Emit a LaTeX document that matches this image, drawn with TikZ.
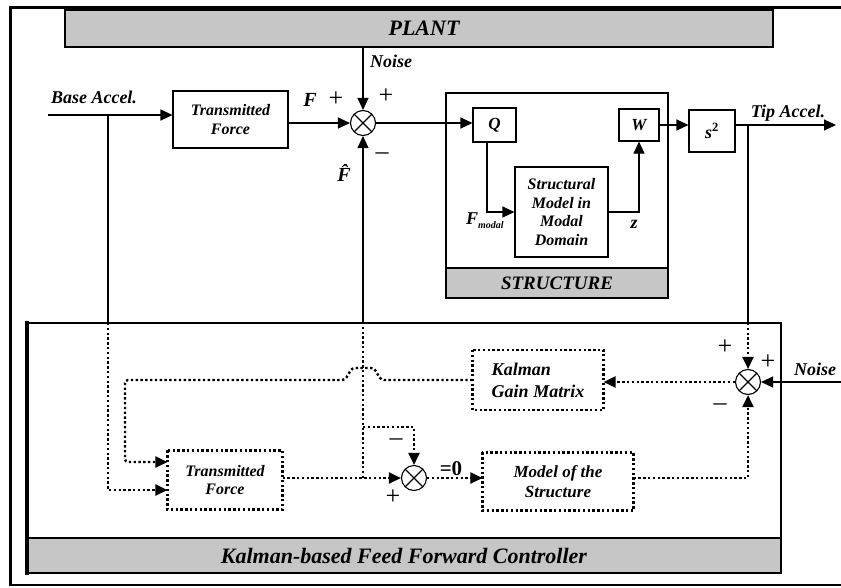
\documentclass[tikz,border=0pt]{standalone}
\usepackage{fontspec}
\setmainfont{Liberation Serif}
\usetikzlibrary{arrows.meta}
\begin{document}
\begin{tikzpicture}[x=1pt,y=-1pt,
  lab/.style={font=\fontsize{18}{18}\selectfont\bfseries\itshape, inner sep=0},
  sgn/.style={font=\fontsize{26}{26}\selectfont, inner sep=0},
  blk/.style={draw, line width=1.1pt, inner sep=0, align=center,
    font=\fontsize{16}{18.5}\selectfont\bfseries\itshape},
  dblk/.style={blk, draw=none},
  banner/.style={draw, line width=1.2pt, fill=gray!45, inner sep=0,
    font=\fontsize{19}{20}\selectfont\bfseries\itshape},
  sumnode/.style={circle, draw, line width=1.1pt, minimum size=25pt, inner sep=0,
    path picture={\draw[line width=1.1pt]
      (path picture bounding box.north west) -- (path picture bounding box.south east)
      (path picture bounding box.north east) -- (path picture bounding box.south west);}},
  arr/.style={-{Triangle[length=12pt,width=11pt]}},
  conn/.style={line width=1.1pt},
  dots/.style={line width=2.4pt, dash pattern=on 2.4pt off 2.4pt}
]
\useasboundingbox (0,0) rectangle (841,587);
% outer frame
\draw[line width=3pt] (10,7) -- (845,7);
\draw[line width=3pt] (10,6) -- (10,586);
\draw[line width=1.5pt] (10,585) -- (845,585);

% banners and frames
\node[banner, minimum width=708pt, minimum height=37pt, font=\fontsize{22}{22}\selectfont\bfseries\itshape] (plant) at (419,28.5) {\hspace*{10pt}PLANT};
\draw[line width=1.1pt] (446,93) rectangle (668,298);
\node[banner, minimum width=222pt, minimum height=30pt] (struct) at (557,283) {STRUCTURE};
\draw[line width=1.2pt] (27,323) rectangle (781,573);
\node[banner, minimum width=754pt, minimum height=35pt, font=\fontsize{22}{22}\selectfont\bfseries\itshape] (kban) at (404,555.5) {Kalman-based Feed Forward Controller};
\draw[line width=4pt] (27,321) -- (27,575);

% plant blocks
\node[blk, minimum width=115pt, minimum height=57pt] (tf1) at (230.5,119.5) {Transmitted\\Force};
\node[sumnode] (s1) at (363,123) {};
\node[blk, minimum width=43pt, minimum height=34pt, font=\fontsize{17}{18}\selectfont\bfseries\itshape] (Q) at (494.5,125) {Q};
\node[blk, minimum width=40pt, minimum height=32pt, font=\fontsize{17}{18}\selectfont\bfseries\itshape] (W) at (639,125) {W};
\node[blk, minimum width=46pt, minimum height=42pt, font=\fontsize{18}{18}\selectfont\bfseries\itshape] (sq) at (712,131) {s\textsuperscript{\upshape 2}};
\node[blk, minimum width=93pt, minimum height=90pt] (sm) at (561.5,212) {Structural\\Model in\\Modal\\Domain};

% controller blocks
\node[sumnode] (s2) at (748,382) {};
\node[sumnode] (s3) at (414,478) {};
\node[dblk, minimum width=130pt, minimum height=59pt, align=left, font=\fontsize{18}{22}\selectfont\bfseries\itshape] (kg) at (538,380) {Kalman\\Gain Matrix};
\draw[dots] (kg.north west) rectangle (kg.south east);
\node[dblk, minimum width=114pt, minimum height=58pt] (tf2) at (225,480) {Transmitted\\Force};
\draw[dots] (tf2.north west) rectangle (tf2.south east);
\node[dblk, minimum width=150pt, minimum height=57pt, font=\fontsize{17}{20}\selectfont\bfseries\itshape] (ms) at (558,481.5) {Model of the\\Structure};
\draw[dots] (ms.north west) rectangle (ms.south east);

% plant connectors
\coordinate (ba) at (48,115);
\coordinate (babr) at (108,115);
\draw[conn,arr] (ba) -- (ba -| tf1.west);
\draw[conn,arr] (tf1.east |- s1) -- (s1.west);
\draw[conn,arr] (plant.south -| s1) -- (s1.north);
\draw[conn,arr] (s1.east) -- (s1.east -| Q.west);
\draw[conn,arr] ([xshift=-7.5pt]Q.south) |- (sm.west);
\draw[conn,arr] (sm.east) -| (W.south);
\draw[conn,arr] (W.east) -- (W.east -| sq.west);
\coordinate (tipend) at (836,125);
\coordinate (tipbr) at (748,125);
\draw[conn,arr] (sq.east |- tipend) -- (tipend);
\coordinate (tk) at (748,323);
\draw[conn] (tipbr) -- (tk);
\draw[dots,arr] (tk) -- (s2.north);
\coordinate (n2) at (843,382);
\draw[conn,arr] (n2) -- (s2.east);

% controller connectors
\draw[dots,arr] (s2.west) -- (s2.west -| kg.east);
\coordinate (lc) at (125,380);
\draw[dots,arr, rounded corners=3pt] (kg.west) -- (381,380) -- (374,368) -- (352,368) -- (345,380) -- (lc) |- ([yshift=18pt]tf2.west);
\coordinate (bk) at (108,323);
\draw[conn] (babr) -- (bk);
\draw[dots,arr] (bk) |- ([yshift=-10pt]tf2.west);
\draw[dots,arr] ([yshift=2pt]tf2.east) -- (s3.west);
\coordinate (j1) at (363,478);
\coordinate (fk) at (363,323);
\draw[dots] (j1) -- (fk);
\draw[conn,arr] (fk) -- (s1.south);
\coordinate (j2) at (363,427);
\draw[dots,arr] (j2) -| (s3.north);
\draw[dots,arr] (s3.east) -- (s3.east -| ms.west);
\draw[dots,arr] (ms.east |- s3) -| (s2.south);

% labels
\node[lab] (lba) at (94,97) {Base Accel.};
\node[lab] (lnoise1) at (391,61) {Noise};
\node[lab, font=\fontsize{20}{20}\selectfont\bfseries\itshape] (lF) at (310,100) {F};
\node[sgn] (lp1) at (336,99) {+};
\node[sgn] (lp2) at (386,96) {+};
\node[sgn] (lm1) at (382,156) {--};
\node[lab, font=\fontsize{20}{20}\selectfont\bfseries\itshape] (lFh) at (344,173) {\^{F}};
\node[lab, anchor=west] (lFm) at (466,221) {F\raisebox{-4pt}{\fontsize{10}{10}\selectfont modal}};
\node[lab] (lz) at (634,224) {z};
\node[lab] (ltip) at (788,113) {Tip Accel.};
\node[lab] (lnoise2) at (815,369) {Noise};
\node[sgn] (lp3) at (725,347) {+};
\node[sgn] (lp4) at (768,362) {+};
\node[sgn] (lm2) at (720,407) {--};
\node[sgn] (lm3) at (396,442) {--};
\node[sgn] (lp5) at (393,497) {+};
\node[font=\fontsize{21}{21}\selectfont\bfseries, inner sep=0] (leq) at (451,469) {=0};
\end{tikzpicture}
\end{document}
